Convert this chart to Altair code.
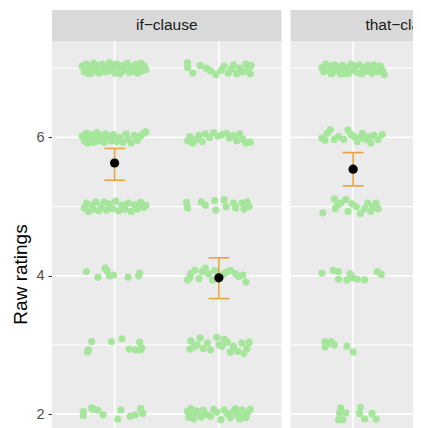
import altair as alt
import pandas as pd

# ---------------- data ----------------
PANELS = ["if−clause", "that−clause"]

# (horizontal jitter, rating) for each jittered raw rating
IF_C1 = [
    (-0.31, 7.03), (-0.29, 6.95), (-0.27, 7.06), (-0.26, 6.97), (-0.24, 7.02), (-0.22, 6.93), (-0.20, 7.07),
    (-0.18, 6.98), (-0.16, 7.04), (-0.14, 6.94), (-0.12, 7.06), (-0.10, 7.00), (-0.08, 6.95), (-0.06, 7.05),
    (-0.04, 6.97), (-0.02, 7.03), (0.00, 6.93), (0.02, 7.06), (0.04, 6.99), (0.06, 6.95), (0.08, 7.04),
    (0.10, 6.97), (0.12, 7.07), (0.14, 6.94), (0.16, 7.02), (0.18, 6.96), (0.20, 7.05), (0.22, 6.93),
    (0.24, 7.01), (0.26, 6.96), (0.28, 7.04), (0.30, 6.98), (-0.25, 6.92), (-0.15, 6.93), (-0.05, 7.08),
    (0.05, 6.92), (0.15, 6.96), (0.25, 7.07),
    (-0.31, 6.02), (-0.29, 5.95), (-0.27, 6.06), (-0.25, 5.97), (-0.23, 6.04), (-0.21, 5.93), (-0.19, 6.01),
    (-0.17, 6.07), (-0.15, 5.96), (-0.13, 6.03), (-0.11, 5.94), (-0.09, 6.05), (-0.07, 5.98), (-0.05, 6.02),
    (-0.03, 5.95), (-0.01, 6.04), (0.02, 5.94), (0.05, 6.00), (0.08, 5.93), (0.11, 6.05), (0.13, 5.98),
    (0.16, 5.92), (0.19, 6.03), (0.22, 5.96), (0.25, 6.02), (0.28, 6.06), (0.30, 6.08), (-0.26, 5.92),
    (-0.18, 5.94), (-0.10, 5.93),
    (-0.29, 4.98), (-0.27, 5.05), (-0.25, 4.93), (-0.22, 5.02), (-0.20, 4.96), (-0.18, 5.07), (-0.15, 4.94),
    (-0.13, 5.01), (-0.10, 5.06), (-0.08, 4.95), (-0.05, 5.04), (-0.02, 4.97), (0.01, 5.08), (0.04, 4.94),
    (0.07, 5.02), (0.10, 4.96), (0.13, 5.05), (0.16, 4.93), (0.19, 5.03), (0.22, 4.97), (0.25, 5.06),
    (0.28, 4.99), (0.30, 5.02),
    (-0.27, 4.06), (-0.16, 3.98), (-0.09, 4.11), (-0.07, 4.07), (-0.05, 4.00), (-0.01, 4.01), (0.13, 3.98),
    (0.23, 4.00), (0.24, 4.04),
    (-0.22, 3.05), (-0.25, 2.93), (-0.26, 2.90), (-0.03, 3.05), (0.07, 3.09), (0.14, 2.94), (0.20, 2.93),
    (0.24, 3.04), (0.25, 2.93), (0.26, 2.96),
    (-0.30, 2.04), (-0.30, 1.98), (-0.22, 2.09), (-0.20, 2.07), (-0.16, 2.06), (-0.11, 1.99), (0.03, 1.93),
    (0.06, 2.06), (0.15, 1.97), (0.20, 1.99), (0.25, 2.08), (0.27, 2.01),
]

IF_C2 = [
    (-0.30, 7.08), (-0.30, 7.01), (-0.25, 6.93), (-0.18, 7.04), (-0.12, 7.00), (-0.08, 6.96), (-0.03, 6.91),
    (0.02, 6.97), (0.05, 7.03), (0.09, 6.93), (0.12, 6.99), (0.14, 7.05), (0.17, 6.92), (0.20, 7.00),
    (0.23, 6.95), (0.26, 7.06), (0.28, 6.98), (0.30, 6.92), (0.31, 7.04),
    (-0.30, 5.95), (-0.28, 6.01), (-0.25, 5.92), (-0.22, 5.97), (-0.19, 6.03), (-0.16, 5.94), (-0.13, 6.05),
    (-0.09, 6.00), (-0.05, 6.07), (-0.01, 6.02), (0.03, 6.04), (0.07, 6.06), (0.10, 5.99), (0.14, 6.03),
    (0.17, 5.95), (0.20, 6.05), (0.23, 5.97), (0.26, 5.92), (0.30, 5.93),
    (-0.31, 5.06), (-0.30, 4.98), (-0.17, 5.07), (-0.13, 5.02), (-0.04, 5.09), (-0.03, 4.95), (0.05, 5.10),
    (0.07, 5.00), (0.14, 5.05), (0.16, 4.98), (0.22, 5.05), (0.24, 4.96), (0.27, 5.07), (0.29, 5.00),
    (-0.30, 3.94), (-0.28, 3.97), (-0.27, 4.03), (-0.23, 4.08), (-0.19, 3.96), (-0.16, 4.06), (-0.13, 4.11),
    (-0.10, 4.03), (-0.06, 3.94), (-0.04, 4.08), (-0.02, 3.95), (0.00, 4.00), (0.05, 4.03), (0.08, 4.06),
    (0.11, 4.08), (0.16, 4.03), (0.19, 3.99), (0.23, 4.01), (0.26, 3.91),
    (-0.28, 2.94), (-0.27, 3.06), (-0.24, 2.97), (-0.21, 3.00), (-0.18, 3.10), (-0.15, 2.95), (-0.11, 3.03),
    (-0.08, 2.93), (-0.02, 3.11), (0.00, 3.00), (0.03, 2.98), (0.05, 3.08), (0.08, 3.04), (0.11, 2.90),
    (0.14, 2.98), (0.18, 2.91), (0.22, 3.03), (0.24, 2.88), (0.27, 2.95), (0.29, 3.04),
    (-0.30, 2.04), (-0.29, 1.95), (-0.27, 2.08), (-0.25, 1.99), (-0.24, 1.93), (-0.22, 2.05), (-0.20, 2.02),
    (-0.17, 1.96), (-0.15, 2.06), (-0.12, 2.00), (-0.08, 1.97), (-0.05, 2.07), (-0.02, 2.03), (0.02, 1.92),
    (0.05, 2.06), (0.08, 2.01), (0.11, 1.95), (0.14, 2.04), (0.16, 2.08), (0.18, 1.98), (0.20, 1.93),
    (0.22, 2.06), (0.24, 2.00), (0.26, 1.95), (0.28, 2.03), (0.30, 2.07),
]

THAT_C1 = [
    (-0.30, 7.01), (-0.28, 6.95), (-0.26, 7.06), (-0.24, 6.98), (-0.22, 7.03), (-0.20, 6.93), (-0.18, 7.05),
    (-0.16, 6.97), (-0.14, 7.02), (-0.12, 6.92), (-0.10, 7.04), (-0.08, 6.96), (-0.06, 7.00), (-0.04, 6.93),
    (-0.02, 7.06), (0.00, 6.97), (0.02, 7.03), (0.04, 6.94), (0.06, 7.05), (0.08, 6.92), (0.10, 7.01),
    (0.12, 6.96), (0.14, 7.04), (0.16, 6.98), (0.18, 6.93), (0.20, 7.05), (0.22, 7.00), (0.24, 6.95),
    (0.26, 7.03), (0.28, 6.97), (0.30, 6.91), (-0.21, 6.92), (-0.07, 6.92), (0.09, 6.93),
    (-0.30, 5.99), (-0.27, 5.96), (-0.25, 6.06), (-0.22, 6.11), (-0.18, 5.97), (-0.14, 6.01), (-0.09, 5.97),
    (-0.05, 6.11), (-0.02, 6.04), (0.01, 6.01), (0.04, 5.94), (0.07, 6.00), (0.09, 6.06), (0.12, 5.97),
    (0.15, 6.01), (0.17, 5.92), (0.20, 6.03), (0.24, 5.97), (0.28, 6.04),
    (-0.29, 4.91), (-0.18, 5.11), (-0.17, 4.97), (-0.15, 5.02), (-0.12, 5.05), (-0.07, 5.10), (-0.05, 4.93),
    (-0.01, 5.04), (0.03, 5.00), (0.07, 4.90), (0.11, 4.97), (0.14, 5.05), (0.17, 4.93), (0.19, 4.99),
    (0.22, 5.05), (0.24, 4.97),
    (-0.30, 4.04), (-0.19, 4.08), (-0.14, 4.06), (-0.14, 3.95), (-0.06, 3.94), (-0.03, 4.03), (-0.02, 3.99),
    (0.00, 3.97), (0.04, 3.95), (0.11, 3.94), (0.23, 4.06), (0.27, 4.02),
    (-0.27, 3.05), (-0.27, 2.97), (-0.24, 3.02), (-0.21, 3.05), (-0.18, 3.00), (-0.06, 2.98), (0.00, 2.90),
    (-0.12, 2.09), (-0.13, 2.02), (-0.14, 1.92), (-0.10, 1.92), (-0.07, 2.02), (0.07, 2.10), (0.06, 2.01),
    (0.11, 1.93), (0.18, 2.01), (0.22, 1.93),
]

# means with error bars: panel index, condition slot, mean, lower, upper
MEAN_PANEL = [0, 0, 1]
MEAN_SLOT = [1, 2, 1]
MEANS = [5.63, 3.97, 5.54]
LOWER = [5.38, 3.67, 5.30]
UPPER = [5.84, 4.26, 5.78]

Y_TICKS = [2, 4, 6]
Y_GRID_MAJOR = [2, 4, 6]
Y_GRID_MINOR = [3, 5, 7]

# ---------------- layout of the (cropped) faceted figure ----------------
X_MIN, X_MAX = 0.4, 3.861
Y_MIN, Y_MAX = 1.80, 7.841
PANEL_TOP = 7.39
LABEL_Y = 7.545
PANEL_OFFSET = [0.0, 2.287]
CAP_HALF = 0.1

points = []
for p, slot, pts in [(0, 1, IF_C1), (0, 2, IF_C2), (1, 1, THAT_C1)]:
    for jx, y in pts:
        points.append({"x": slot + PANEL_OFFSET[p] + jx, "y": y})
points_df = pd.DataFrame(points)

panel_rows, strip_rows, hgrid_rows, vgrid_rows = [], [], [], []
for p, off in enumerate(PANEL_OFFSET):
    x0, x1 = 0.4 + off, min(2.6 + off, X_MAX)
    panel_rows.append({"x": x0, "x2": x1, "y": Y_MIN, "y2": PANEL_TOP})
    strip_rows.append({"x": x0, "x2": x1, "y": PANEL_TOP, "y2": Y_MAX,
                       "lx": 1.5 + off, "ly": LABEL_Y, "label": PANELS[p]})
    for v in Y_GRID_MAJOR:
        hgrid_rows.append({"x": x0, "x2": x1, "y": v, "major": True})
    for v in Y_GRID_MINOR:
        hgrid_rows.append({"x": x0, "x2": x1, "y": v, "major": False})
    for slot in (1, 2):
        if slot + off < X_MAX:
            vgrid_rows.append({"x": slot + off, "y": Y_MIN, "y2": PANEL_TOP})
panel_df = pd.DataFrame(panel_rows)
strip_df = pd.DataFrame(strip_rows)
hgrid_df = pd.DataFrame(hgrid_rows)
vgrid_df = pd.DataFrame(vgrid_rows)

mean_df = pd.DataFrame({
    "x": [s + PANEL_OFFSET[p] for p, s in zip(MEAN_PANEL, MEAN_SLOT)],
    "mean": MEANS, "lo": LOWER, "hi": UPPER,
})
mean_df["cl"] = mean_df["x"] - CAP_HALF
mean_df["cr"] = mean_df["x"] + CAP_HALF

FONT = "Liberation Sans"
xscale = alt.Scale(domain=[X_MIN, X_MAX], nice=False, zero=False)
yscale = alt.Scale(domain=[Y_MIN, Y_MAX], nice=False, zero=False)
yaxis = alt.Axis(values=Y_TICKS, format="d", tickSize=4, tickWidth=1.1, tickColor="#333333",
                 labelColor="#4D4D4D", labelFontSize=14.5, labelFont=FONT, labelPadding=4,
                 domain=False, grid=False, title="Raw ratings", titleFont=FONT, titleFontSize=19,
                 titleFontWeight="normal", titleColor="#000000", titleX=-32, titleY=264,
                 titleAngle=270, titleAlign="center", titleBaseline="middle")


def X(f):
    return alt.X(f, type="quantitative", scale=xscale, axis=None)


def Y(f):
    return alt.Y(f, type="quantitative", scale=yscale, axis=yaxis, title="Raw ratings")


bg = alt.Chart(panel_df).mark_rect(color="#EBEBEB").encode(x=X("x"), x2="x2", y=Y("y"), y2="y2")
strip = alt.Chart(strip_df).mark_rect(color="#D9D9D9").encode(x=X("x"), x2="x2", y=Y("y"), y2="y2")
gmaj = alt.Chart(hgrid_df[hgrid_df["major"]]).mark_rule(color="white", strokeWidth=1.6).encode(
    x=X("x"), x2="x2", y=Y("y"))
gmin = alt.Chart(hgrid_df[~hgrid_df["major"]]).mark_rule(color="white", strokeWidth=1.1).encode(
    x=X("x"), x2="x2", y=Y("y"))
gv = alt.Chart(vgrid_df).mark_rule(color="white", strokeWidth=1.6).encode(x=X("x"), y=Y("y"), y2="y2")
pts = alt.Chart(points_df).mark_circle(size=52, color="#a6e69c", opacity=1, clip=True).encode(
    x=X("x"), y=Y("y"))
ORANGE = "#E8A43C"
err = alt.Chart(mean_df).mark_rule(color=ORANGE, strokeWidth=1.6).encode(x=X("x"), y=Y("lo"), y2="hi")
cap_lo = alt.Chart(mean_df).mark_rule(color=ORANGE, strokeWidth=1.6).encode(x=X("cl"), x2="cr", y=Y("lo"))
cap_hi = alt.Chart(mean_df).mark_rule(color=ORANGE, strokeWidth=1.6).encode(x=X("cl"), x2="cr", y=Y("hi"))
mean = alt.Chart(mean_df).mark_circle(size=85, color="black", opacity=1).encode(x=X("x"), y=Y("mean"))
labels = alt.Chart(strip_df).mark_text(font=FONT, fontSize=15.5, color="#1A1A1A", align="center",
                                       baseline="alphabetic").encode(
    x=X("lx"), y=Y("ly"), text="label:N")

chart = alt.layer(bg, strip, gmin, gmaj, gv, pts, err, cap_lo, cap_hi, mean, labels).properties(
    width=361, height=418,
    autosize=alt.AutoSizeParams(type="none"),
    padding={"left": 44, "top": 2, "right": 0, "bottom": 0},
    background="white",
).configure_view(stroke=None)

chart.save("out.html", embed_options={"renderer": "svg", "actions": False})
